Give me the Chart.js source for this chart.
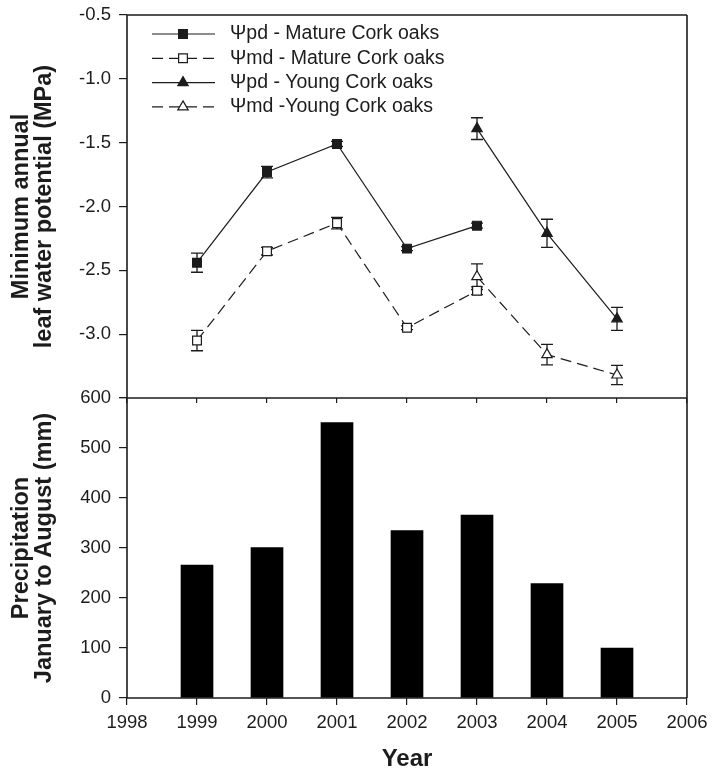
<!DOCTYPE html>
<html>
<head>
<meta charset="utf-8">
<script src="https://cdn.jsdelivr.net/npm/chart.js@4.4.1/dist/chart.umd.min.js"></script>
<style>
  html, body { margin: 0; padding: 0; background: #fff; }
  #wrap { position: relative; width: 712px; height: 771px; overflow: hidden; }
  #potential { position: absolute; left: 0; top: 0; }
  #rain { position: absolute; left: 0; top: 386px; }
</style>
</head>
<body>
<div id="wrap">
  <canvas id="potential" width="712" height="410"></canvas>
  <canvas id="rain" width="712" height="385"></canvas>
</div>
<script>
// Sampling years
const matureYears = [1999, 2000, 2001, 2002, 2003];
const youngYears = [2003, 2004, 2005];
const rainYears = [1999, 2000, 2001, 2002, 2003, 2004, 2005];

// Minimum annual leaf water potential (MPa), means and standard errors
const pdMature = [-2.44, -1.73, -1.51, -2.33, -2.15];
const pdMatureErr = [0.075, 0.045, 0.02, 0.015, 0.02];
const mdMature = [-3.05, -2.35, -2.13, -2.95, -2.66];
const mdMatureErr = [0.08, 0.03, 0.045, 0.015, 0.03];
const pdYoung = [-1.39, -2.21, -2.88];
const pdYoungErr = [0.085, 0.11, 0.09];
const mdYoung = [-2.55, -3.16, -3.32];
const mdYoungErr = [0.10, 0.08, 0.075];

// Precipitation January to August (mm)
const precipitation = [266, 301, 551, 335, 366, 229, 100];

// Legend labels
const seriesLabels = [
  '\u03A8pd - Mature Cork oaks',
  '\u03A8md - Mature Cork oaks',
  '\u03A8pd - Young Cork oaks',
  '\u03A8md -Young Cork oaks'
];

const FONT = 'Arial, "Liberation Sans", sans-serif';
const INK = '#1c1c1c';

function points(xs, ys, errs) {
  return xs.map((x, i) => ({ x: x, y: ys[i], err: errs ? errs[i] : 0 }));
}

// Fixed gutters so both panels share the same plotting width and edges
function fixWidth(w) {
  return s => { s.width = w; s.paddingTop = 0; s.paddingBottom = 0; };
}
function fixHeight(h) {
  return s => { s.height = h; s.paddingLeft = 0; s.paddingRight = 0; };
}

// Frame around the plotting area (edges chosen per panel)
function framePlugin(edges) {
  return {
    id: 'frame',
    afterDraw(chart) {
      const a = chart.chartArea, ctx = chart.ctx;
      ctx.save();
      ctx.strokeStyle = INK;
      ctx.lineWidth = 1.6;
      ctx.beginPath();
      if (edges.top) { ctx.moveTo(a.left, a.top); ctx.lineTo(a.right, a.top); }
      if (edges.right) { ctx.moveTo(a.right, a.top); ctx.lineTo(a.right, a.bottom); }
      if (edges.bottom) { ctx.moveTo(a.left, a.bottom); ctx.lineTo(a.right, a.bottom); }
      if (edges.left) { ctx.moveTo(a.left, a.top); ctx.lineTo(a.left, a.bottom); }
      ctx.stroke();
      ctx.restore();
    }
  };
}

// Vertical error bars with caps, placed through the y scale
const errorBarPlugin = {
  id: 'errorBars',
  beforeDatasetsDraw(chart) {
    const ctx = chart.ctx;
    const yScale = chart.scales.y;
    ctx.save();
    ctx.strokeStyle = INK;
    ctx.lineWidth = 1.3;
    chart.data.datasets.forEach((ds, di) => {
      const meta = chart.getDatasetMeta(di);
      meta.data.forEach((el, i) => {
        const d = ds.data[i];
        if (!d.err) return;
        const y1 = yScale.getPixelForValue(d.y + d.err);
        const y2 = yScale.getPixelForValue(d.y - d.err);
        const x = el.x, cap = 6;
        ctx.beginPath();
        ctx.moveTo(x, y1); ctx.lineTo(x, y2);
        ctx.moveTo(x - cap, y1); ctx.lineTo(x + cap, y1);
        ctx.moveTo(x - cap, y2); ctx.lineTo(x + cap, y2);
        ctx.stroke();
      });
    });
    ctx.restore();
  }
};

// Legend rows: line sample with marker in the middle, then label
const legendPlugin = {
  id: 'lineLegend',
  afterDraw(chart) {
    const ctx = chart.ctx;
    const x0 = 152, x1 = 215, xm = 183, xt = 230, yStart = 34, step = 24.3;
    chart.data.datasets.forEach((ds, i) => {
      const y = yStart + i * step;
      ctx.save();
      ctx.strokeStyle = ds.borderColor;
      ctx.lineWidth = ds.borderWidth;
      ctx.setLineDash(ds.borderDash || []);
      ctx.beginPath();
      ctx.moveTo(x0, y); ctx.lineTo(x1, y);
      ctx.stroke();
      ctx.setLineDash([]);
      ctx.fillStyle = ds.pointBackgroundColor;
      ctx.strokeStyle = ds.pointBorderColor;
      ctx.lineWidth = ds.pointBorderWidth;
      Chart.helpers.drawPoint(ctx, {
        pointStyle: ds.pointStyle, radius: ds.pointRadius,
        borderWidth: ds.pointBorderWidth, rotation: 0
      }, xm, y);
      ctx.fillStyle = INK;
      ctx.font = '19.5px ' + FONT;
      ctx.textBaseline = 'middle';
      ctx.textAlign = 'left';
      ctx.fillText(seriesLabels[i], xt, y);
      ctx.restore();
    });
  }
};

const tickFont = { family: FONT, size: 18.5 };
const titleFont = { family: FONT, size: 23.5, weight: 'bold', lineHeight: 1.0 };

function series(label, data, dashed, style, filled) {
  return {
    label: label,
    data: data,
    borderColor: INK,
    borderWidth: 1.2,
    borderDash: dashed ? [11, 6] : [],
    tension: 0,
    fill: false,
    pointStyle: style,
    pointRadius: style === 'rect' ? 6.2 : 6,
    pointBorderWidth: 1.2,
    pointBorderColor: INK,
    pointBackgroundColor: filled ? INK : '#ffffff'
  };
}

new Chart(document.getElementById('potential'), {
  type: 'line',
  data: {
    datasets: [
      series(seriesLabels[0], points(matureYears, pdMature, pdMatureErr), false, 'rect', true),
      series(seriesLabels[1], points(matureYears, mdMature, mdMatureErr), true, 'rect', false),
      series(seriesLabels[2], points(youngYears, pdYoung, pdYoungErr), false, 'triangle', true),
      series(seriesLabels[3], points(youngYears, mdYoung, mdYoungErr), true, 'triangle', false)
    ]
  },
  options: {
    responsive: false,
    animation: false,
    events: [],
    layout: { padding: { top: 15, right: 25, bottom: 7, left: 0 } },
    plugins: { legend: { display: false }, tooltip: { enabled: false } },
    scales: {
      x: {
        type: 'linear', min: 1998, max: 2006,
        ticks: { stepSize: 1, display: false },
        grid: { drawOnChartArea: false, tickLength: 5, color: INK, lineWidth: 1.2 },
        border: { display: false },
        afterFit: fixHeight(5)
      },
      y: {
        type: 'linear', min: -3.5, max: -0.5,
        ticks: {
          stepSize: 0.5, font: tickFont, color: INK, padding: 8,
          callback: v => (v <= -3.5 ? '' : v.toFixed(1))
        },
        grid: { drawOnChartArea: false, tickLength: 8, color: INK, lineWidth: 1.2 },
        border: { display: false },
        title: {
          display: true, text: ['Minimum annual', 'leaf water potential (MPa)'],
          font: titleFont, color: INK, padding: { top: 9.5, bottom: 0 }
        },
        afterFit: fixWidth(127)
      }
    }
  },
  plugins: [errorBarPlugin, framePlugin({ top: true, right: true, bottom: true, left: true }), legendPlugin]
});

new Chart(document.getElementById('rain'), {
  type: 'bar',
  data: {
    datasets: [{
      label: 'Precipitation',
      data: rainYears.map((x, i) => ({ x: x, y: precipitation[i] })),
      backgroundColor: '#000000',
      borderWidth: 0,
      barThickness: 32
    }]
  },
  options: {
    responsive: false,
    animation: false,
    events: [],
    layout: { padding: { top: 12, right: 25, bottom: 0, left: 0 } },
    plugins: { legend: { display: false }, tooltip: { enabled: false } },
    scales: {
      x: {
        type: 'linear', min: 1998, max: 2006, offset: false,
        ticks: { stepSize: 1, font: tickFont, color: INK, padding: 7, callback: v => String(v) },
        grid: { drawOnChartArea: false, tickLength: 7, color: INK, lineWidth: 1.2, offset: false },
        border: { display: false },
        title: {
          display: true, text: 'Year',
          font: { family: FONT, size: 24, weight: 'bold', lineHeight: 1.0 }, color: INK,
          padding: { top: 0, bottom: 0 }
        },
        afterFit: fixHeight(73)
      },
      y: {
        type: 'linear', min: 0, max: 600,
        ticks: { stepSize: 100, font: tickFont, color: INK, padding: 8 },
        grid: { drawOnChartArea: false, tickLength: 8, color: INK, lineWidth: 1.2 },
        border: { display: false },
        title: {
          display: true, text: ['Precipitation', 'January to August (mm)'],
          font: titleFont, color: INK, padding: { top: 9.5, bottom: 0 }
        },
        afterFit: fixWidth(127)
      }
    }
  },
  plugins: [framePlugin({ top: false, right: true, bottom: true, left: true })]
});
</script>
</body>
</html>
